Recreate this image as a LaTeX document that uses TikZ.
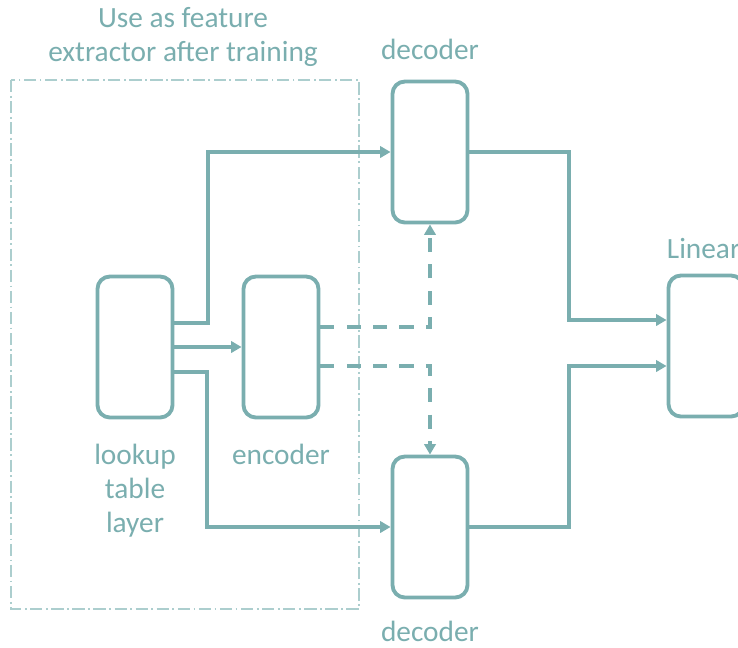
\documentclass[tikz,border=0pt]{standalone}
\usepackage{fontspec}
\setmainfont{Carlito}
\usetikzlibrary{arrows.meta,positioning,calc}
\definecolor{tealgray}{RGB}{122,174,175}
\definecolor{lightteal}{RGB}{172,206,206}

\begin{document}
\begin{tikzpicture}[
      x=0.02cm, y=-0.02cm,
      mybox/.style={
         draw=tealgray,
         line width=2.2pt,
         rounded corners=7pt,
         minimum width=1.5cm,
         minimum height=2.82cm,
         inner sep=0pt},
      mylabel/.style={
         text=tealgray,
         inner sep=0pt,
         align=center,
         font=\fontsize{16.7}{19.4}\selectfont},
      myarrow/.style={draw=tealgray, line width=2.2pt, -{Triangle[length=6pt,width=6.5pt]}},
      mydashed/.style={myarrow, dash pattern=on 8pt off 7pt}
      ]
      \useasboundingbox (0,0) rectangle (738,647);
      % frame of the part kept after training
      \draw[lightteal, line width=0.9pt, dash pattern=on 7pt off 2pt on 1pt off 2pt] (11,80) rectangle (359,609);

      \node[mybox] (lookup) at (135,347) {};
      \node[mybox] (enc) at (281,347) {};
      \node[mybox] (dectop) at (430,152) {};
      \node[mybox] (decbot) at (430,527) {};
      \node[mybox] (lin) at (706,346) {};

      \node[mylabel, anchor=north] (title) at (183,7) {Use as feature\\extractor after training};
      \node[mylabel, above=11pt of dectop] (dectoplbl) {decoder};
      \node[mylabel, below=12pt of decbot] (decbotlbl) {decoder};
      \node[mylabel, below=14pt of lookup] (lookuplbl) {lookup\\table\\layer};
      \node[mylabel, below=14pt of enc] (enclbl) {encoder};
      \node[mylabel, above right=8pt and 0pt of lin.north west] (linlbl) {Linear};

      \draw[myarrow] ($(lookup.east)+(0,-24)$) -- ++(34,0) |- (dectop.west);
      \draw[myarrow] (lookup.east) -- (enc.west);
      \draw[myarrow] ($(lookup.east)+(0,25)$) -- ++(33,0) |- (decbot.west);
      \draw[mydashed] ($(enc.east)+(0,-20)$) -| (dectop.south);
      \draw[mydashed] ($(enc.east)+(0,19)$) -| (decbot.north);
      \foreach \d/\dy in {dectop/-26, decbot/20}% decoder/offset at Linear
        \draw[myarrow] (\d.east) -- ++(100,0) |- ($(lin.west)+(0,\dy)$);
\end{tikzpicture}
\end{document}
